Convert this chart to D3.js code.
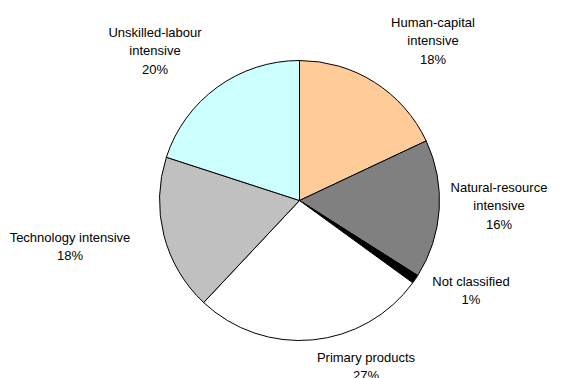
<!DOCTYPE html>
<html>
<head>
<meta charset="utf-8">
<script src="https://cdn.jsdelivr.net/npm/d3@7"></script>
<style>
  html, body { margin: 0; padding: 0; background: #fff; }
  svg { display: block; }
  text { font-family: "Liberation Sans", Arial, sans-serif; font-size: 13px; fill: #000; }
</style>
</head>
<body>
<svg id="chart" width="564" height="378"></svg>
<script>
// Export structure by product category (share of total, %)
const categories = [
  "Human-capital intensive",
  "Natural-resource intensive",
  "Not classified",
  "Primary products",
  "Technology intensive",
  "Unskilled-labour intensive"
];
const shares = [18, 16, 1, 27, 18, 20];
// Label text, split into lines as drawn
const labelLines = [
  ["Human-capital", "intensive"],
  ["Natural-resource", "intensive"],
  ["Not classified"],
  ["Primary products"],
  ["Technology intensive"],
  ["Unskilled-labour", "intensive"]
];
const fills = ["#FFCC99", "#808080", "#000000", "#FFFFFF", "#C0C0C0", "#CCFFFF"];

// Layout
const cx = 299.5, cy = 200.5, radius = 140;
const lineH = 18.3;
// Label block anchors: centre x and first-line baseline
const labelPos = [
  [433, 27], [499, 192], [471, 286], [366, 362], [70, 242], [155, 37]
];

const svg = d3.select("#chart");
const data = categories.map((c, i) => ({ name: c, value: shares[i], lines: labelLines[i], fill: fills[i], pos: labelPos[i] }));

const pie = d3.pie().value(d => d.value).sort(null).startAngle(0).endAngle(2 * Math.PI);
const arc = d3.arc().innerRadius(0).outerRadius(radius);

const g = svg.append("g").attr("transform", `translate(${cx},${cy})`);
g.selectAll("path")
  .data(pie(data))
  .join("path")
  .attr("d", arc)
  .attr("fill", d => d.data.fill)
  .attr("stroke", "#000")
  .attr("stroke-width", 1)
  .attr("stroke-linejoin", "round");

const labels = svg.append("g").selectAll("text")
  .data(data)
  .join("text")
  .attr("text-anchor", "middle")
  .attr("x", d => d.pos[0])
  .attr("y", d => d.pos[1]);

labels.each(function(d) {
  const t = d3.select(this);
  const lines = d.lines.concat([d.value + "%"]);
  lines.forEach((ln, i) => {
    t.append("tspan").attr("x", d.pos[0]).attr("y", d.pos[1] + i * lineH).text(ln);
  });
});
</script>
</body>
</html>
